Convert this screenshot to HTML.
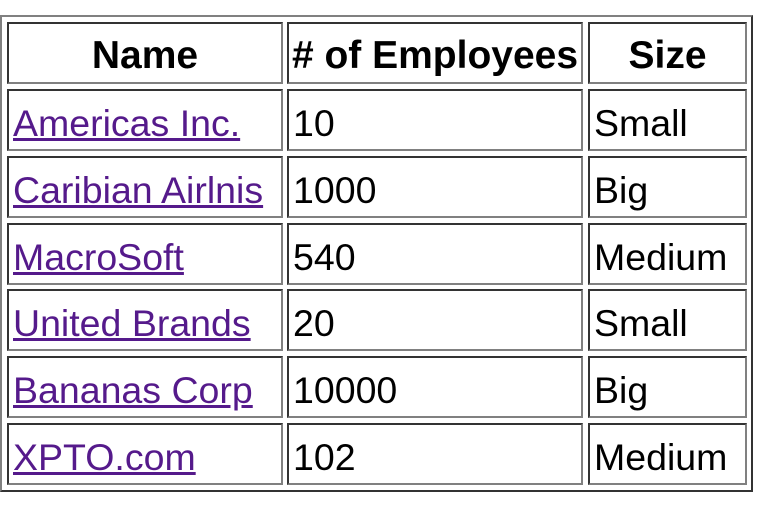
<!DOCTYPE html>
<html><head><meta charset="utf-8"><style>
body{margin:0;width:765px;height:505px;background:#fff;overflow:hidden;font-family:"Liberation Sans",sans-serif;}
.t{position:absolute;left:0;top:15px;width:749px;height:473px;border:2px solid;border-color:#808080 #333 #333 #808080;}
.c{position:absolute;box-sizing:border-box;border:2px solid;border-color:#333 #808080 #808080 #333;font-size:37.5px;line-height:64px;padding-left:4px;white-space:nowrap;color:#000;overflow:hidden;}
.h{font-weight:bold;text-align:center;padding-left:0;font-size:39px;line-height:64px;}
a{color:#551a8b;text-decoration:underline;}
</style></head><body>
<div class="t"></div>
<div id="cells"></div>
<script>
const headers=["Name","# of Employees","Size"];
const names=["Americas Inc.","Caribian Airlnis","MacroSoft","United Brands","Bananas Corp","XPTO.com"];
const employees=["10","1000","540","20","10000","102"];
const sizes=["Small","Big","Medium","Small","Big","Medium"];
const colX=[7,287,588],colW=[276,296,159];
const rowY=[22,89,156,223,289,356,423],rowH=62;
const root=document.getElementById('cells');
function cell(r,c,content,isHead,isLink){
  const d=document.createElement('div');
  d.className='c'+(isHead?' h':'');
  d.style.left=colX[c]+'px';d.style.top=rowY[r]+'px';d.style.width=colW[c]+'px';d.style.height=rowH+'px';
  
  
  if(isLink){const a=document.createElement('a');a.href='#';a.textContent=content;
    
    
    d.appendChild(a);}else d.textContent=content;
  root.appendChild(d);
}
headers.forEach((h,i)=>cell(0,i,h,true,false));
names.forEach((n,i)=>{cell(i+1,0,n,false,true);cell(i+1,1,employees[i],false,false);cell(i+1,2,sizes[i],false,false);});
</script>
</body></html>
